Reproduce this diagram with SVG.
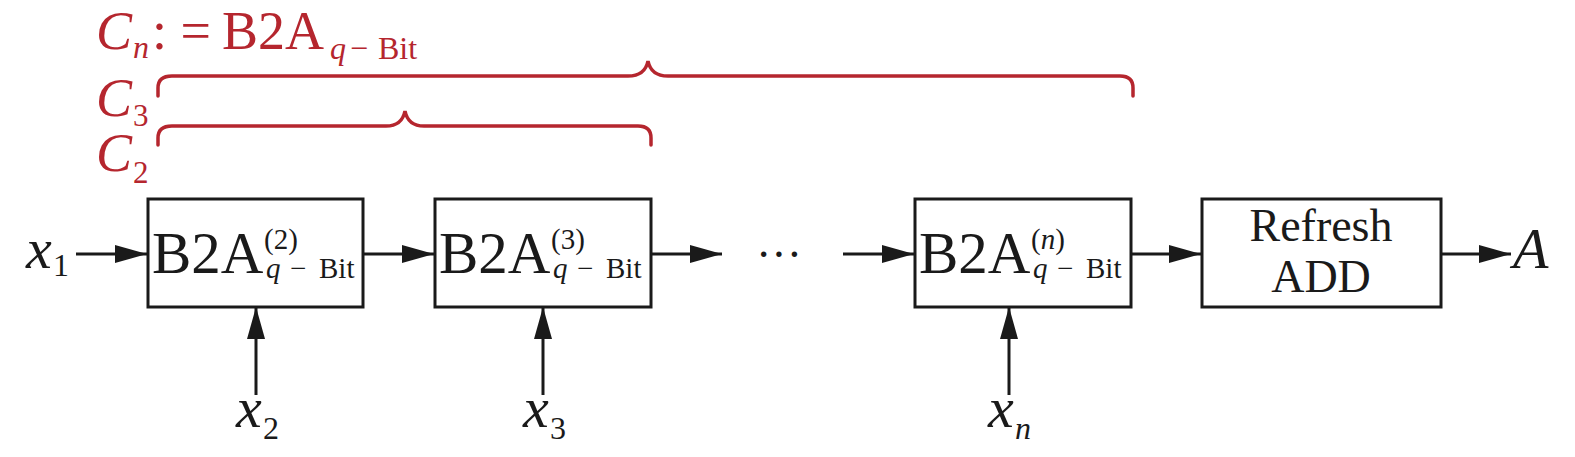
<svg xmlns="http://www.w3.org/2000/svg" width="1575" height="457" viewBox="0 0 1575 457">
<defs>
<style>
.box{fill:#fff;stroke:#1a1a1a;stroke-width:3}
.ln{stroke:#1a1a1a;stroke-width:3;fill:none}
.t{font-family:"Liberation Serif","Times New Roman",serif;fill:#1a1a1a}
.r{font-family:"Liberation Serif","Times New Roman",serif;fill:#b5262e}
.i{font-style:italic}
.br{stroke:#b5262e;stroke-width:3.5;fill:none;stroke-linecap:round}
</style>
<marker id="ah" markerUnits="userSpaceOnUse" markerWidth="34" markerHeight="20" refX="32" refY="9" orient="auto">
<path d="M0,0 L32,9 L0,18 z" fill="#1a1a1a"/>
</marker>
</defs>
<g id="braces">
<path class="br" d="M158,96 L158,88 Q158,76 172,76 L628,76 Q645,76 648,61 Q651,76 668,76 L1120,76 Q1133,76 1133,88 L1133,96"/>
<path class="br" d="M158,145 L158,138 Q158,126 172,126 L386,126 Q402,126 405,111 Q408,126 424,126 L638,126 Q651,126 651,138 L651,145"/>
</g>
<g id="labels-top">
<text class="r" y="49" font-size="54"><tspan class="i" x="96">C</tspan><tspan class="i" x="133" y="58" font-size="32">n</tspan><tspan x="152" y="49">: =</tspan><tspan x="222">B2A</tspan><tspan class="i" x="330" y="59" font-size="32">q</tspan><tspan x="350" font-size="32">−</tspan><tspan x="378" font-size="32">Bit</tspan></text>
<text class="r" y="116" font-size="54"><tspan class="i" x="96">C</tspan><tspan x="133" y="126" font-size="31">3</tspan></text>
<text class="r" y="171" font-size="54"><tspan class="i" x="96">C</tspan><tspan x="133" y="183" font-size="31">2</tspan></text>
</g>
<g id="connectors">
<line class="ln" x1="76" y1="254" x2="147" y2="254" marker-end="url(#ah)"/>
<line class="ln" x1="363" y1="254" x2="434" y2="254" marker-end="url(#ah)"/>
<line class="ln" x1="651" y1="254" x2="722" y2="254" marker-end="url(#ah)"/>
<line class="ln" x1="843" y1="254" x2="914" y2="254" marker-end="url(#ah)"/>
<line class="ln" x1="1131" y1="254" x2="1201" y2="254" marker-end="url(#ah)"/>
<line class="ln" x1="1441" y1="254" x2="1511" y2="254" marker-end="url(#ah)"/>
<line class="ln" x1="256" y1="395" x2="256" y2="307" marker-end="url(#ah)"/>
<line class="ln" x1="543" y1="395" x2="543" y2="307" marker-end="url(#ah)"/>
<line class="ln" x1="1009" y1="395" x2="1009" y2="307" marker-end="url(#ah)"/>
</g>
<g id="node-b2a-2">
<rect class="box" x="148" y="199" width="215" height="108"/>
<text class="t" y="273" font-size="59"><tspan x="152">B2A</tspan><tspan x="264" y="249" font-size="29">(2)</tspan><tspan class="i" x="266" y="278" font-size="29">q</tspan><tspan x="290" font-size="29">−</tspan><tspan x="319" font-size="29">Bit</tspan></text>
</g>
<g id="node-b2a-3">
<rect class="box" x="435" y="199" width="216" height="108"/>
<text class="t" y="273" font-size="59"><tspan x="439">B2A</tspan><tspan x="551" y="249" font-size="29">(3)</tspan><tspan class="i" x="553" y="278" font-size="29">q</tspan><tspan x="577" font-size="29">−</tspan><tspan x="606" font-size="29">Bit</tspan></text>
</g>
<g id="dots">
<text class="t" x="756" y="270" font-size="46">···</text>
</g>
<g id="node-b2a-n">
<rect class="box" x="915" y="199" width="216" height="108"/>
<text class="t" y="273" font-size="59"><tspan x="919">B2A</tspan><tspan x="1031" y="249" font-size="29">(</tspan><tspan class="i" font-size="29">n</tspan><tspan font-size="29">)</tspan><tspan class="i" x="1033" y="278" font-size="29">q</tspan><tspan x="1057" font-size="29">−</tspan><tspan x="1086" font-size="29">Bit</tspan></text>
</g>
<g id="node-refresh">
<rect class="box" x="1202" y="199" width="239" height="108"/>
<text class="t" font-size="46" text-anchor="middle"><tspan x="1321" y="241">Refresh</tspan><tspan x="1321" y="292">ADD</tspan></text>
</g>
<g id="io-labels">
<text class="t" y="268" font-size="58"><tspan class="i" x="26">x</tspan><tspan x="53" y="276" font-size="32">1</tspan></text>
<text class="t" y="427" font-size="58"><tspan class="i" x="236">x</tspan><tspan x="263" y="439" font-size="32">2</tspan></text>
<text class="t" y="427" font-size="58"><tspan class="i" x="523">x</tspan><tspan x="550" y="439" font-size="32">3</tspan></text>
<text class="t" y="427" font-size="58"><tspan class="i" x="988">x</tspan><tspan class="i" x="1015" y="439" font-size="32">n</tspan></text>
<text class="t i" x="1513" y="268" font-size="58">A</text>
</g>
</svg>
